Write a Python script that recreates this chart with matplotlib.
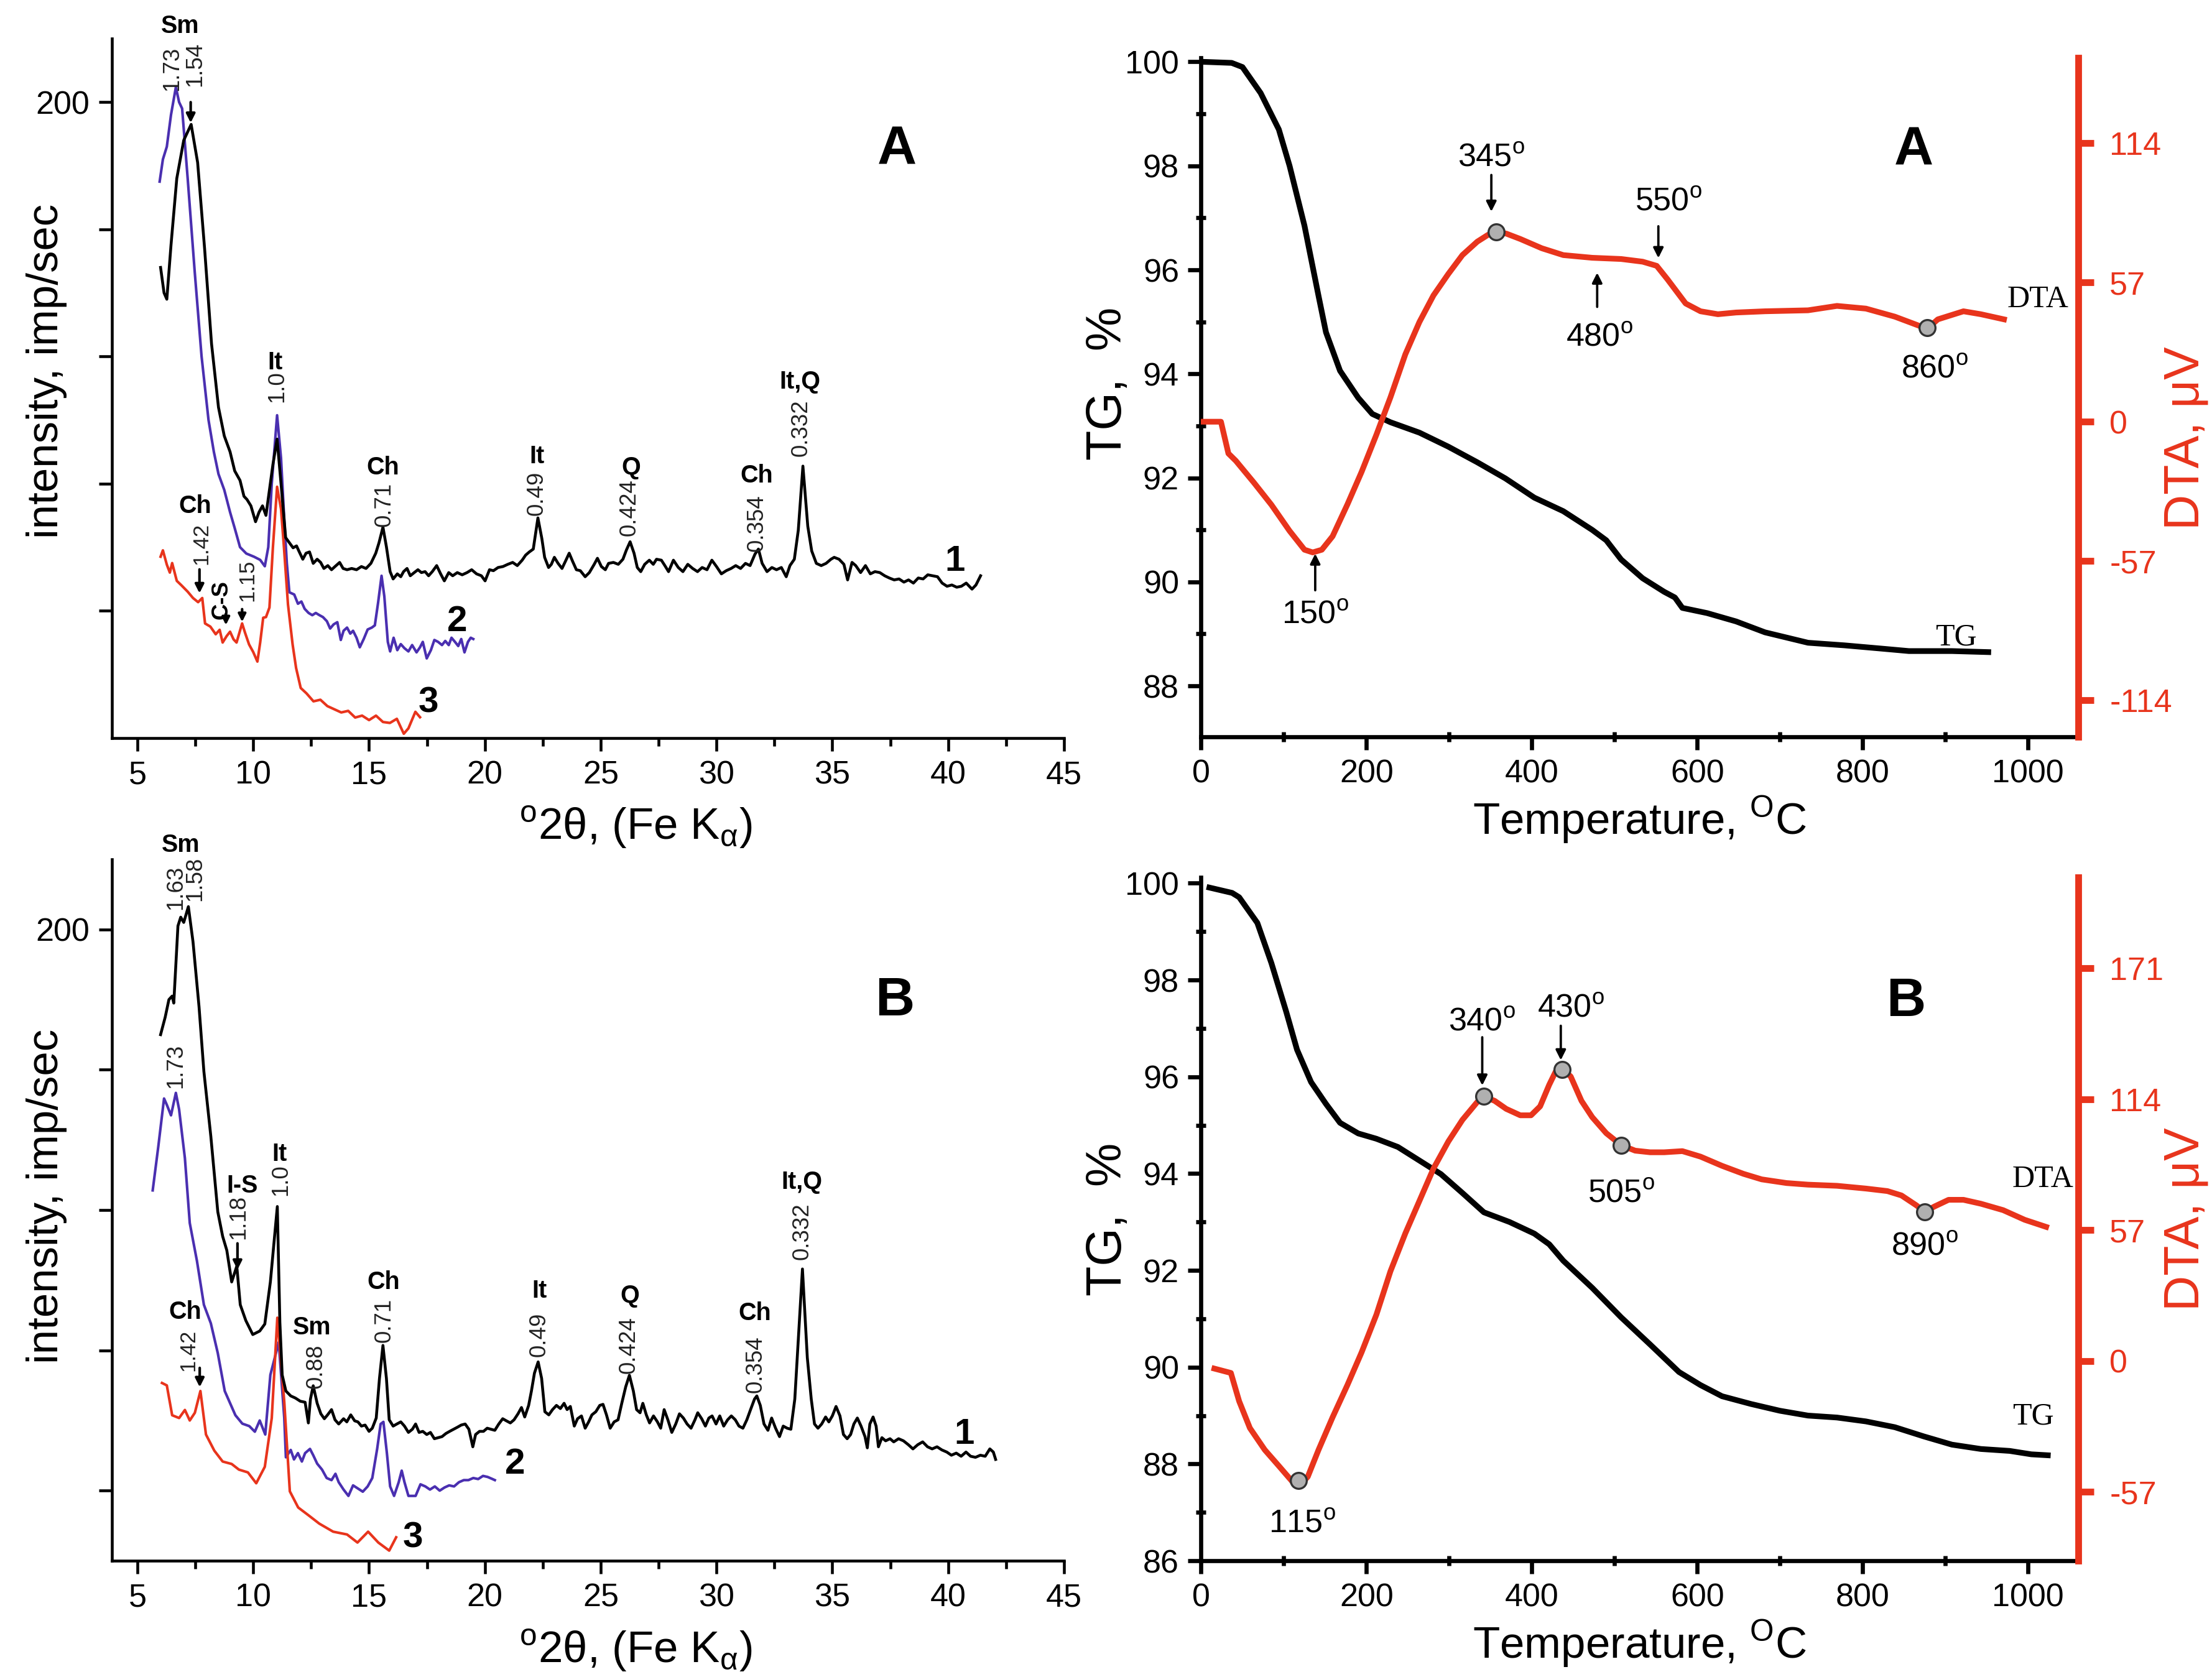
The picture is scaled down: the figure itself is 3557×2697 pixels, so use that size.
import matplotlib
matplotlib.use("Agg")
import matplotlib.pyplot as plt
from matplotlib.ticker import MultipleLocator, FixedLocator

plt.rcParams['font.family'] = ['Liberation Sans Narrow', 'Liberation Sans', 'DejaVu Sans']
plt.rcParams['mathtext.fontset'] = 'custom'
plt.rcParams['mathtext.rm'] = 'Liberation Sans'
plt.rcParams['axes.unicode_minus'] = False

BLUE = '#4a2fb0'
RED = '#e8341c'

# ---------------- XRD A ----------------
xrdA1_x = [6.0, 6.15, 6.27, 6.45, 6.7, 7.0, 7.32, 7.6, 7.9, 8.2, 8.5, 8.75, 9.0, 9.2, 9.43, 9.6, 9.73, 9.9, 10.1, 10.25,
           10.4, 10.55, 10.7, 10.85, 11.03, 11.2, 11.4,
           11.56, 11.72, 11.87, 11.97, 12.14, 12.28, 12.43, 12.59, 12.76, 12.91,
           13.05, 13.22, 13.38, 13.53, 13.73, 13.88, 14.05, 14.25, 14.46, 14.67,
           14.87, 15.08, 15.29, 15.43, 15.6, 15.75, 15.91, 16.04, 16.22, 16.37,
           16.49, 16.64, 16.78, 16.95, 17.11, 17.26, 17.42, 17.57, 17.73, 17.92,
           18.09, 18.25, 18.44, 18.61, 18.81, 19.02, 19.23, 19.43, 19.64, 19.85,
           20.01, 20.2, 20.37, 20.57, 20.78, 20.99, 21.2, 21.4, 21.61, 21.76,
           21.92, 22.09, 22.29, 22.46, 22.58, 22.75, 22.87, 23.0, 23.16, 23.33,
           23.5, 23.64, 23.79, 23.95, 24.12, 24.33, 24.51, 24.72, 24.86, 25.03,
           25.2, 25.34, 25.55, 25.76, 25.96, 26.11, 26.27, 26.44, 26.58, 26.73,
           26.9, 27.1, 27.27, 27.41, 27.62, 27.77, 27.93, 28.14, 28.35, 28.55,
           28.76, 28.97, 29.18, 29.38, 29.59, 29.8, 30.0, 30.21, 30.42, 30.63,
           30.83, 31.04, 31.25, 31.45, 31.66, 31.81, 31.97, 32.18, 32.39, 32.59,
           32.8, 33.01, 33.17, 33.36, 33.53, 33.73, 33.94, 34.11, 34.31, 34.52,
           34.73, 34.94, 35.08, 35.29, 35.5, 35.66, 35.85, 36.01, 36.22, 36.43,
           36.64, 36.84, 37.05, 37.26, 37.46, 37.67, 37.88, 38.09, 38.29, 38.5,
           38.71, 38.92, 39.12, 39.33, 39.54, 39.74, 39.95, 40.16, 40.37, 40.57,
           40.78, 41.03, 41.2, 41.4]
xrdA1_y = [148, 140, 138, 155, 176, 188, 193, 181, 154, 124, 104, 95, 90, 84, 81, 76, 75, 73, 68, 71,
           73, 70, 78, 86, 94, 80, 63,
           61.4, 59.8, 60.4, 58.8, 56.2, 58.1, 58.5, 54.9, 56.2, 55.2,
           53.3, 54.2, 52.9, 53.9, 55.2, 53.3, 52.9, 53.3, 52.9, 53.9,
           53.3, 54.9, 58.1, 61.4, 66.3, 60.1, 52.3, 50.0, 51.6, 50.7,
           52.3, 53.3, 51.0, 52.0, 52.9, 52.0, 52.3, 51.0, 52.3, 54.2,
           51.6, 49.4, 52.0, 51.0, 52.0, 51.3, 52.0, 52.9, 51.6, 51.0,
           49.4, 52.9, 52.6, 53.6, 53.9, 54.6, 55.2, 54.2, 55.9, 57.5,
           58.5, 59.4, 69.2, 62.7, 56.8, 53.6, 54.6, 56.8, 54.9, 53.3,
           55.9, 58.1, 55.5, 52.9, 52.6, 50.7, 52.0, 54.6, 56.5, 53.9,
           52.9, 54.9, 55.2, 54.6, 56.2, 59.1, 61.7, 58.1, 53.6, 52.3,
           54.6, 55.9, 54.6, 56.2, 55.9, 54.2, 52.3, 55.9, 53.6, 52.3,
           54.6, 53.3, 52.3, 53.6, 52.9, 55.9, 53.9, 51.6, 52.6, 53.3,
           54.2, 53.3, 54.9, 54.2, 57.8, 59.4, 54.9, 52.3, 53.6, 52.9,
           53.6, 50.7, 54.2, 56.2, 65.3, 85.5, 66.6, 58.8, 54.9, 54.2,
           54.9, 56.2, 56.8, 56.2, 54.6, 49.7, 55.2, 54.2, 52.0, 54.2,
           51.6, 52.3, 52.0, 51.0, 50.3, 49.7, 50.0, 49.0, 49.7, 48.7,
           50.3, 50.0, 51.3, 51.0, 50.7, 48.7, 47.7, 48.1, 47.4, 47.7,
           48.7, 46.8, 48.1, 51.0]
xrdA2_x = [5.96, 6.1, 6.27, 6.45, 6.66, 6.8, 6.93, 7.17, 7.47, 7.77, 8.07, 8.3, 8.5, 8.75, 9.0, 9.2, 9.43, 9.7, 10.03, 10.3,
           10.5, 10.65, 10.8, 11.03, 11.2, 11.33, 11.45,
           11.56, 11.77, 11.93, 12.08, 12.22, 12.39, 12.55, 12.7, 12.86, 13.01,
           13.18, 13.32, 13.47, 13.63, 13.78, 13.9, 14.05, 14.19, 14.31, 14.46,
           14.6, 14.77, 14.94, 15.12, 15.25, 15.39, 15.54, 15.66, 15.81, 15.91,
           16.06, 16.22, 16.37, 16.53, 16.7, 16.86, 17.05, 17.2, 17.32, 17.49,
           17.67, 17.82, 17.98, 18.15, 18.29, 18.44, 18.56, 18.71, 18.85, 18.98,
           19.12, 19.27, 19.39, 19.5]
xrdA2_y = [175, 182, 186, 196, 204.7, 200, 198, 176, 147, 120, 100, 90, 83, 78, 71, 66, 60, 58, 57, 56,
           54, 60, 80, 101.5, 88, 70, 55,
           45.8, 45.1, 42.2, 42.9, 40.6, 39.3, 38.6, 39.3, 38.6, 38.0,
           36.7, 34.4, 35.7, 36.4, 30.8, 33.7, 34.7, 32.8, 33.7, 31.5,
           28.5, 31.1, 34.1, 34.7, 35.4, 42.5, 51.0, 44.5, 30.2, 27.2,
           31.5, 27.6, 29.5, 28.2, 27.2, 29.2, 26.9, 28.5, 30.2, 25.0,
           27.6, 30.8, 30.2, 29.2, 30.5, 29.2, 31.5, 30.2, 28.9, 31.1,
           26.9, 30.2, 31.5, 31.1]
xrdA3_x = [6.0, 6.1, 6.27, 6.4, 6.5, 6.7, 6.9, 7.17, 7.4, 7.62, 7.8, 7.92, 8.15, 8.38, 8.55, 8.68, 8.85, 9.0, 9.15, 9.28,
           9.4, 9.52, 9.65, 9.82, 10.0, 10.18, 10.3, 10.43, 10.55, 10.7, 10.85, 11.03, 11.2, 11.33, 11.5, 11.7, 11.85, 12.05,
           12.3, 12.6, 12.9, 13.2, 13.5, 13.8, 14.1, 14.4, 14.7, 15.0, 15.3, 15.6, 15.9, 16.2, 16.5, 16.7, 17.0, 17.2]
xrdA3_y = [57, 59, 54.5, 52, 55, 49.4, 48, 46, 44, 42.7, 44, 36, 35, 32.6, 34, 30, 32, 33.4, 31, 30,
           33, 36, 33, 29.4, 27, 24, 30, 37.8, 38, 41, 60, 79, 72, 59.6, 42, 29.4, 22, 15.7,
           14, 11.5, 12, 10, 9, 8, 8.5, 6.4, 7, 5.6, 7, 5, 4.7, 6, 1.3, 3, 8.2, 6.5]

# ---------------- XRD B ----------------
xrdB1_x = [6.0, 6.2, 6.36, 6.5, 6.57, 6.75, 6.87, 7.0, 7.2, 7.4, 7.66, 7.87, 8.17, 8.47, 8.68, 8.86, 9.07, 9.29, 9.44,
           9.68, 9.98, 10.28, 10.5, 10.74, 11.04, 11.15, 11.25,
           11.41, 11.62, 11.82, 12.03, 12.24, 12.38, 12.47, 12.59, 12.76, 12.92,
           13.07, 13.21, 13.38, 13.53, 13.69, 13.9, 14.04, 14.21, 14.38, 14.52,
           14.67, 14.83, 15.0, 15.14, 15.31, 15.45, 15.6, 15.75, 15.87, 16.04,
           16.2, 16.37, 16.53, 16.7, 16.87, 17.01, 17.16, 17.32, 17.49, 17.65,
           17.82, 17.99, 18.15, 18.32, 18.48, 18.65, 18.82, 18.98, 19.15, 19.31,
           19.48, 19.6, 19.77, 19.94, 20.1, 20.27, 20.43, 20.6, 20.77, 20.93,
           21.1, 21.26, 21.43, 21.58, 21.72, 21.89, 22.01, 22.14, 22.3, 22.45,
           22.59, 22.76, 22.92, 23.09, 23.26, 23.42, 23.55, 23.69, 23.86, 24.0,
           24.17, 24.33, 24.48, 24.62, 24.79, 24.96, 25.1, 25.25, 25.41, 25.58,
           25.75, 25.91, 26.08, 26.24, 26.41, 26.55, 26.7, 26.82, 26.97, 27.11,
           27.28, 27.45, 27.59, 27.74, 27.9, 28.07, 28.24, 28.4, 28.57, 28.73,
           28.9, 29.07, 29.19, 29.36, 29.52, 29.67, 29.81, 29.98, 30.14, 30.31,
           30.48, 30.64, 30.81, 30.97, 31.14, 31.31, 31.47, 31.64, 31.74, 31.89,
           32.05, 32.22, 32.38, 32.55, 32.72, 32.88, 33.05, 33.21, 33.38, 33.71,
           33.92, 34.09, 34.23, 34.38, 34.54, 34.71, 34.85, 35.0, 35.16, 35.33,
           35.48, 35.64, 35.79, 35.93, 36.08, 36.24, 36.41, 36.51, 36.62, 36.76,
           36.89, 36.99, 37.14, 37.3, 37.49, 37.65, 37.86, 38.07, 38.28, 38.48,
           38.69, 38.9, 39.11, 39.31, 39.52, 39.73, 39.94, 40.14, 40.35, 40.56,
           40.77, 40.97, 41.18, 41.39, 41.6, 41.8, 41.95, 42.05]
xrdB1_y = [170, 175, 180, 181, 179, 201, 203.5, 202, 206.5, 196.5, 178, 159.5, 141, 119.5, 112.5, 108.5, 99.5, 104, 93,
           88.5, 84.5, 85.5, 87.5, 99.5, 121, 88, 73,
           68.4, 67.0, 66.4, 65.5, 65.2, 59.3, 66.1, 69.9, 64.9, 61.9,
           60.5, 61.6, 63.1, 60.2, 59.0, 60.5, 59.6, 61.6, 59.9, 59.6,
           58.4, 58.7, 56.9, 57.8, 60.7, 72.0, 81.4, 72.0, 60.2, 58.4,
           59.0, 59.6, 58.4, 56.6, 57.5, 59.0, 56.6, 56.9, 56.0, 56.6,
           54.8, 55.1, 55.4, 56.3, 56.9, 57.5, 58.1, 58.7, 59.0, 57.5,
           52.5, 56.0, 56.9, 56.9, 57.8, 57.5, 57.2, 59.0, 60.5, 59.9,
           59.3, 60.2, 61.9, 63.7, 61.0, 64.3, 68.4, 73.5, 76.7, 72.0,
           62.5, 61.6, 63.1, 64.3, 63.4, 64.9, 63.1, 64.0, 58.4, 60.5,
           61.3, 57.8, 59.6, 61.6, 62.5, 64.3, 64.6, 61.6, 57.8, 59.6,
           60.2, 64.9, 69.6, 72.9, 68.4, 63.1, 62.2, 64.9, 61.6, 59.3,
           61.3, 59.6, 57.8, 63.1, 60.2, 56.6, 59.0, 61.9, 60.7, 59.0,
           57.8, 60.2, 62.2, 60.5, 58.4, 60.7, 61.3, 59.0, 61.3, 58.4,
           60.2, 61.3, 60.2, 58.4, 57.8, 60.2, 63.1, 66.1, 67.0, 64.3,
           59.0, 57.2, 60.7, 57.8, 55.4, 58.4, 57.8, 57.5, 66.1, 103.2,
           77.9, 66.1, 59.0, 57.8, 59.0, 61.0, 59.6, 61.3, 64.0, 61.3,
           56.0, 54.8, 56.0, 59.0, 60.7, 58.4, 55.4, 52.2, 59.0, 61.0,
           58.4, 52.5, 55.1, 54.2, 54.8, 53.9, 54.8, 54.2, 53.1, 51.9,
           53.1, 53.9, 52.5, 51.9, 52.5, 51.6, 51.0, 50.1, 50.7, 49.8,
           51.0, 49.8, 49.5, 50.1, 49.8, 51.9, 51.0, 48.9]
xrdB2_x = [5.66, 5.9, 6.15, 6.27, 6.45, 6.66, 6.8, 7.05, 7.26, 7.57, 7.87, 8.17, 8.47, 8.77, 9.23, 9.53, 9.83, 10.07,
           10.28, 10.52, 10.74, 11.1, 11.34,
           11.41, 11.62, 11.76, 11.93, 12.1, 12.24, 12.45, 12.59, 12.76, 12.97,
           13.17, 13.38, 13.55, 13.69, 13.9, 14.11, 14.31, 14.52, 14.73, 14.94,
           15.14, 15.35, 15.5, 15.62, 15.77, 15.91, 16.08, 16.28, 16.41, 16.53,
           16.7, 17.01, 17.22, 17.43, 17.63, 17.84, 18.05, 18.26, 18.46, 18.67,
           18.88, 19.09, 19.29, 19.5, 19.71, 19.92, 20.12, 20.33, 20.43]
xrdB2_y = [125.6, 138, 151.8, 150, 147, 153.4, 148.7, 134.8, 116.3, 105.5, 93, 87.7, 79.2, 68.4, 61.5, 59.1, 58.4, 56.8,
           60, 56, 73, 82.3, 60.7,
           49.5, 51.6, 48.9, 50.7, 48.3, 50.7, 51.9, 50.1, 47.7, 46.0,
           43.6, 43.0, 44.8, 42.4, 40.3, 38.5, 41.5, 40.6, 39.7, 41.2,
           43.6, 51.9, 59.0, 59.6, 50.7, 41.2, 38.5, 42.4, 45.7, 42.4,
           38.5, 38.5, 41.8, 41.2, 40.3, 41.2, 40.0, 40.9, 41.5, 41.2,
           42.4, 43.0, 43.0, 43.6, 43.3, 44.2, 43.9, 43.3, 43.0]
xrdB3_x = [6.06, 6.27, 6.5, 6.8, 7.05, 7.26, 7.48, 7.72, 7.96, 8.32, 8.68, 9.07, 9.38, 9.77, 10.13, 10.5, 10.8, 11.04,
           11.34, 11.58, 11.94, 12.4, 12.85, 13.45, 14.05, 14.5, 14.96, 15.4, 15.87, 16.17]
xrdB3_y = [70.7, 70, 61.5, 60.7, 63, 60, 62.2, 68.4, 56, 51.4, 48.3, 47.6, 46, 45.2, 42.1, 46.8, 60.7, 89.3,
           65.3, 39.8, 35.2, 32.9, 30.6, 28.3, 27.5, 25.2, 28.3, 25.2, 22.9, 26.7]

# ---------------- TG / DTA A ----------------
tgA_T = [3, 37, 50, 72, 94, 107, 125, 142, 151, 168, 190, 207, 229, 264, 299, 334, 368, 403, 438, 473, 490, 508, 534,
         560, 573, 582, 612, 647, 682, 734, 778, 821, 856, 908, 952]
tgA_v = [100, 99.98, 99.9, 99.4, 98.7, 98.0, 96.85, 95.5, 94.8, 94.06, 93.54, 93.23, 93.07, 92.87, 92.6, 92.3, 91.99,
         91.62, 91.36, 91.0, 90.8, 90.43, 90.07, 89.81, 89.7, 89.5, 89.4, 89.24, 89.03, 88.83, 88.78, 88.72, 88.67,
         88.67, 88.65]
dtaA_T = [3, 24, 33, 42, 64, 85, 107, 125, 135, 146, 159, 177, 194, 212, 229, 247, 264, 281, 299, 316, 334, 347, 357,
          369, 386, 412, 438, 473, 508, 534, 551, 564, 586, 604, 625, 647, 682, 734, 769, 804, 839, 865, 878, 891, 922,
          943, 971]
dtaA_v = [0, 0, -13, -16, -25, -34, -44.7, -52.4, -53.5, -52.4, -46.9, -33.8, -20.6, -5.3, 10, 27.6, 40.8, 51.7, 60.5,
          68.2, 73.7, 76.5, 77.6, 77, 74.8, 71, 68.2, 67.1, 66.6, 65.5, 63.8, 58.3, 48.4, 45.2, 44, 44.7, 45.2, 45.6,
          47.4, 46.3, 43, 39.7, 38, 41.9, 45.2, 44, 41.9]
dtaA_mark_T = [357, 878]
dtaA_mark_v = [77.6, 38.5]

# ---------------- TG / DTA B ----------------
tgB_T = [10, 37.5, 46, 68, 85, 103, 116, 133, 151, 168, 190, 212, 238, 264, 290, 316, 342, 373, 403, 421, 438, 473, 508,
         543, 578, 604, 630, 665, 700, 734, 769, 804, 839, 874, 908, 943, 978, 1004, 1024]
tgB_v = [99.91, 99.8, 99.71, 99.18, 98.35, 97.34, 96.56, 95.89, 95.44, 95.05, 94.83, 94.72, 94.55, 94.27, 93.99, 93.6,
         93.2, 93.0, 92.76, 92.54, 92.2, 91.64, 91.03, 90.47, 89.9, 89.63, 89.4, 89.24, 89.1, 89.0, 88.96, 88.88, 88.76,
         88.57, 88.4, 88.31, 88.27, 88.2, 88.18]
dtaB_T = [16, 36, 46, 59, 77, 94, 111, 120, 129, 142, 159, 177, 194, 212, 229, 247, 264, 281, 299, 316, 334, 342, 355,
          369, 386, 399, 410, 421, 429, 438, 447, 460, 473, 490, 508, 525, 543, 560, 582, 604, 630, 656, 678, 708, 734,
          769, 804, 830, 847, 865, 875, 887, 904, 922, 943, 970, 996, 1022]
dtaB_v = [-3.3, -5.2, -17.5, -29.2, -38.7, -45.7, -52.8, -54, -50.4, -38.7, -24.5, -10.4, 3.7, 20.2, 39.1, 55.6, 69.7,
          83.8, 95.6, 105, 112.8, 115.2, 113.3, 109.8, 107, 107, 110.9, 120.3, 126.2, 126.9, 123.9, 113.3, 106.2, 99.2,
          94, 91.6, 90.9, 90.9, 91.4, 89, 85, 81.5, 79.1, 77.5, 76.8, 76.3, 75.1, 74, 72.1, 67.8, 65, 67.3, 70.2, 70.2,
          68.5, 65.7, 61.5, 58.4]
dtaB_mark_T = [118, 342, 437, 508, 875]
dtaB_mark_v = [-52, 115.4, 126.9, 94, 65]

fig = plt.figure(figsize=(3557 / 300, 2697 / 300), dpi=300)
SANS = ['Liberation Sans', 'DejaVu Sans']


def xrd_axes(rect, ylim, ylab_y):
    ax = fig.add_axes(rect)
    ax.set_xlim(3.9, 45)
    ax.set_ylim(*ylim)
    for s in ('top', 'right'):
        ax.spines[s].set_visible(False)
    ax.spines['left'].set_linewidth(1.1)
    ax.spines['bottom'].set_linewidth(1.1)
    ax.xaxis.set_major_locator(FixedLocator([5, 10, 15, 20, 25, 30, 35, 40, 45]))
    ax.xaxis.set_minor_locator(FixedLocator([7.5, 12.5, 17.5, 22.5, 27.5, 32.5, 37.5, 42.5]))
    ax.yaxis.set_major_locator(FixedLocator([40, 80, 120, 160, 200]))
    ax.set_yticklabels(['', '', '', '', '200'])
    ax.tick_params(axis='both', direction='out', width=1.1, length=5, labelsize=12.5)
    ax.tick_params(axis='x', which='minor', direction='out', width=1.1, length=3)
    ax.set_ylabel('intensity, imp/sec', fontsize=17, family=SANS)
    ax.yaxis.set_label_coords(-0.047, ylab_y)
    ax.set_xlabel(r'$^{\mathrm{o}}$2θ, (Fe K$_{\mathrm{α}}$)', fontsize=17, family=SANS)
    ax.xaxis.set_label_coords(0.55, -0.095)
    return ax


def lbl(ax, x, y, s, bold=True, size=9.5):
    ax.text(x, y, s, ha='center', va='center', fontsize=size, fontweight='bold' if bold else 'normal',
            family=SANS, clip_on=False)


def num(ax, x, y, s, size=8.8):
    ax.text(x, y, s, ha='center', va='center', rotation=90, fontsize=size, color='#222222',
            family=SANS, clip_on=False)


def arr(ax, x, y0, y1, lw=1.0, ms=7):
    ax.annotate('', xy=(x, y1), xytext=(x, y0),
                arrowprops=dict(arrowstyle='-|>', color='black', lw=lw, mutation_scale=ms,
                                shrinkA=0, shrinkB=0), annotation_clip=False)


# ---- XRD A
axA = xrd_axes([0.0506, 0.560, 0.4304, 0.417], (0, 220), 0.524)
axA.plot(xrdA2_x, xrdA2_y, color=BLUE, lw=1.0)
axA.plot(xrdA3_x, xrdA3_y, color=RED, lw=1.0)
axA.plot(xrdA1_x, xrdA1_y, color='black', lw=1.1)
lbl(axA, 6.85, 224, 'Sm')
num(axA, 6.5, 210.5, '1.73')
num(axA, 7.5, 212, '1.54')
arr(axA, 7.3, 200, 193.5)
lbl(axA, 10.94, 118, 'It')
num(axA, 11.03, 110.5, '1.0')
lbl(axA, 15.6, 85, 'Ch')
num(axA, 15.67, 73.5, '0.71')
lbl(axA, 22.24, 88.5, 'It')
num(axA, 22.24, 77, '0.49')
lbl(axA, 26.3, 85, 'Q')
num(axA, 26.25, 72.5, '0.424')
lbl(axA, 31.74, 82.5, 'Ch')
num(axA, 31.74, 67.5, '0.354')
lbl(axA, 33.6, 112, 'It,Q')
num(axA, 33.64, 97.5, '0.332')
lbl(axA, 7.5, 73, 'Ch')
num(axA, 7.75, 61, '1.42', size=8.3)
arr(axA, 7.68, 53, 45.5)
axA.text(8.62, 43.5, 'C-S', ha='center', va='center', rotation=90, fontsize=8.8, fontweight='bold', family=SANS)
arr(axA, 8.82, 39.0, 35.5, ms=6)
num(axA, 9.75, 49.5, '1.15', size=8.3)
arr(axA, 9.52, 40.5, 36.5, ms=6)
lbl(axA, 40.3, 55.5, '1', size=14)
lbl(axA, 18.8, 36.5, '2', size=14)
lbl(axA, 17.55, 11, '3', size=14)
lbl(axA, 37.8, 185, 'A', size=21)

# ---- XRD B
axB = xrd_axes([0.0506, 0.0693, 0.4304, 0.4183], (20, 220), 0.52)
axB.plot(xrdB2_x, xrdB2_y, color=BLUE, lw=1.0)
axB.plot(xrdB3_x, xrdB3_y, color=RED, lw=1.0)
axB.plot(xrdB1_x, xrdB1_y, color='black', lw=1.1)
lbl(axB, 6.87, 224, 'Sm')
num(axB, 6.66, 212, '1.63')
num(axB, 7.5, 214.5, '1.58')
num(axB, 6.66, 161, '1.73')
lbl(axB, 9.53, 127, 'I-S')
num(axB, 9.38, 118, '1.18')
arr(axB, 9.32, 110.5, 103)
lbl(axB, 11.13, 136, 'It')
num(axB, 11.19, 128.5, '1.0')
lbl(axB, 12.55, 86.5, 'Sm')
num(axB, 12.7, 75.5, '0.88')
lbl(axB, 15.63, 99.5, 'Ch')
num(axB, 15.66, 88.5, '0.71')
lbl(axB, 22.36, 97, 'It')
num(axB, 22.36, 84.5, '0.49')
lbl(axB, 26.25, 95.5, 'Q')
num(axB, 26.22, 81.5, '0.424')
lbl(axB, 31.66, 90.5, 'Ch')
num(axB, 31.7, 76, '0.354')
lbl(axB, 33.68, 128, 'It,Q')
num(axB, 33.7, 114, '0.332')
lbl(axB, 7.05, 91, 'Ch')
num(axB, 7.2, 80, '1.42', size=8.3)
arr(axB, 7.69, 75, 69.5)
lbl(axB, 40.7, 56, '1', size=14)
lbl(axB, 21.3, 47.5, '2', size=14)
lbl(axB, 16.9, 26.5, '3', size=14)
lbl(axB, 37.7, 179.5, 'B', size=21)


def deg(v):
    return str(v) + r'$^{\mathrm{o}}$'


def tg_axes(rect, tg_lim, tg_ticks, dta_lim, dta_ticks, tg_lab_y, dta_lab_y):
    ax = fig.add_axes(rect)
    ax.set_xlim(0, 1061)
    ax.set_ylim(*tg_lim)
    for s in ('top', 'right'):
        ax.spines[s].set_visible(False)
    ax.spines['left'].set_linewidth(1.6)
    ax.spines['bottom'].set_linewidth(1.6)
    ax.xaxis.set_major_locator(MultipleLocator(200))
    ax.xaxis.set_minor_locator(MultipleLocator(100))
    ax.yaxis.set_major_locator(FixedLocator(tg_ticks))
    ax.yaxis.set_minor_locator(MultipleLocator(1))
    ax.tick_params(axis='both', which='major', direction='out', width=1.6, length=5, labelsize=12.5)
    ax.tick_params(axis='both', which='minor', direction='inout', width=1.6, length=4)
    ax.set_xlabel('Temperature, $^{\\mathrm{O}}$C', fontsize=17, labelpad=2)
    ax.set_ylabel('TG,  %', fontsize=19, family=SANS)
    ax.yaxis.set_label_coords(-0.079, tg_lab_y)
    axr = ax.twinx()
    axr.set_ylim(*dta_lim)
    for s in ('top', 'left', 'bottom'):
        axr.spines[s].set_visible(False)
    axr.spines['right'].set_color(RED)
    axr.spines['right'].set_linewidth(2.6)
    axr.yaxis.set_major_locator(FixedLocator(dta_ticks))
    axr.tick_params(axis='y', colors=RED, direction='out', width=2.6, length=6, labelsize=12.5, pad=6)
    axr.set_ylabel('DTA, μV', color=RED, fontsize=19, family=SANS)
    axr.yaxis.set_label_coords(1.096, dta_lab_y)
    return ax, axr


def txt(ax, x, y, s, size=12.5, **kw):
    ax.text(x, y, s, ha='center', va='center', fontsize=size, clip_on=False, **kw)


def sarrow(ax, x, y0, y1):
    ax.annotate('', xy=(x, y1), xytext=(x, y0),
                arrowprops=dict(arrowstyle='-|>', color='black', lw=0.9, mutation_scale=8,
                                shrinkA=0, shrinkB=0))


SERIF = ['Liberation Serif', 'DejaVu Serif']

# ---- TG/DTA A
tA, dA = tg_axes([0.543, 0.5606, 0.3966, 0.405], (87.02, 100.08), [88, 90, 92, 94, 96, 98, 100],
                 (-129, 149), [-114, -57, 0, 57, 114], 0.52, 0.44)
tA.plot(tgA_T, tgA_v, color='black', lw=2.2)
dA.plot(dtaA_T, dtaA_v, color=RED, lw=2.2)
dA.scatter(dtaA_mark_T, dtaA_mark_v, s=38, facecolor='#b0b0b0', edgecolor='#333333', linewidth=0.8, zorder=5)
txt(dA, 351, 108, deg(345))
sarrow(dA, 351, 101, 86)
txt(dA, 565, 90, deg(550))
sarrow(dA, 553, 80, 67)
txt(dA, 482, 34.5, deg(480))
sarrow(dA, 479, 47, 61)
txt(dA, 138, -79, deg(150))
sarrow(dA, 138, -69, -54)
txt(dA, 887, 21.5, deg(860))
txt(dA, 1012, 50, 'DTA', size=12, family=SERIF)
txt(tA, 913, 88.93, 'TG', size=12, family=SERIF)
txt(tA, 862, 98.3, 'A', size=21, fontweight='bold', family=SANS)

# ---- TG/DTA B
tB, dB = tg_axes([0.543, 0.0693, 0.3966, 0.4075], (86, 100.12), [86, 88, 90, 92, 94, 96, 98, 100],
                 (-87, 210.6), [-57, 0, 57, 114, 171], 0.5, 0.5)
tB.plot(tgB_T, tgB_v, color='black', lw=2.2)
dB.plot(dtaB_T, dtaB_v, color=RED, lw=2.2)
dB.scatter(dtaB_mark_T, dtaB_mark_v, s=38, facecolor='#b0b0b0', edgecolor='#333333', linewidth=0.8, zorder=5)
txt(dB, 340, 147.5, deg(340))
sarrow(dB, 340, 141, 120)
txt(dB, 447, 153.5, deg(430))
sarrow(dB, 435, 146, 131)
txt(dB, 508, 73, deg(505))
txt(dB, 875, 50, deg(890))
txt(dB, 122, -71, deg(115))
txt(dB, 1018, 79, 'DTA', size=12, family=SERIF)
txt(tB, 1006, 88.98, 'TG', size=12, family=SERIF)
txt(tB, 852, 97.54, 'B', size=21, fontweight='bold', family=SANS)

fig.savefig('out.png', dpi=300, facecolor='white')
